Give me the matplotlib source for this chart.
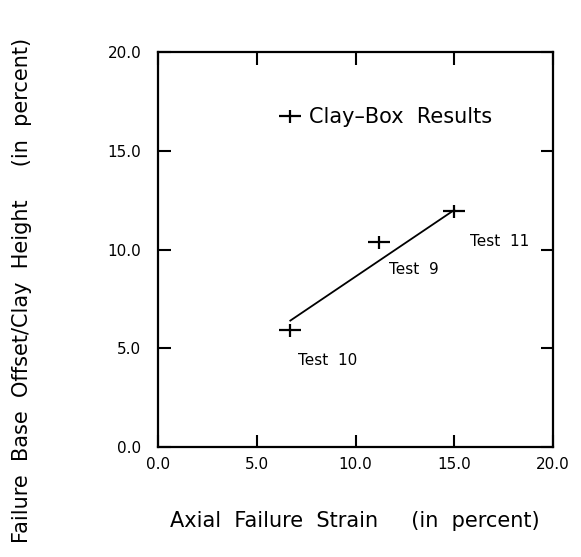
import matplotlib
matplotlib.use("Agg")
import matplotlib.pyplot as plt
from matplotlib.path import Path
from matplotlib.lines import Line2D

# Data
test_names = ["Test 10", "Test 9", "Test 11"]
strain = [6.7, 11.2, 15.0]
offset = [5.9, 10.4, 11.95]
fit_x = [6.7, 15.0]
fit_y = [6.4, 12.0]
ticks = [0.0, 5.0, 10.0, 15.0, 20.0]
tick_labels = ["0.0", "5.0", "10.0", "15.0", "20.0"]

label_pos = {"Test 10": (7.1, 4.4), "Test 9": (11.7, 9.0), "Test 11": (15.8, 10.4)}

plt.rcParams['font.family'] = ['DejaVu Sans']

fig = plt.figure(figsize=(5.81, 5.57), dpi=100)
ax = fig.add_axes([158/581, 1-447/557, (553-158)/581, (447-52)/557])

marker = Path([(-1.0, 0.0), (1.0, 0.0), (0.0, -0.6), (0.0, 0.5)],
              [Path.MOVETO, Path.LINETO, Path.MOVETO, Path.LINETO])

ax.plot(fit_x, fit_y, color='black', lw=1.3)
ax.plot(strain, offset, linestyle='none', marker=marker, markersize=16,
        markeredgewidth=1.6, color='black')

for name, x, y in zip(test_names, strain, offset):
    tx, ty = label_pos[name]
    ax.text(tx, ty, name.replace(" ", "  "), fontsize=11, va='center', ha='left')

handle = Line2D([], [], linestyle='none', marker=marker, markersize=16,
                markeredgewidth=1.6, color='black')
ax.legend([handle], ["Clay\u2013Box  Results"], loc='center left',
          bbox_to_anchor=(0.26, 0.835), frameon=False, fontsize=15,
          handletextpad=0.4, handlelength=1.0)

ax.set_xlim(0, 20)
ax.set_ylim(0, 20)
ax.set_xticks(ticks)
ax.set_xticklabels(tick_labels)
ax.set_yticks(ticks)
ax.set_yticklabels(tick_labels)
ax.tick_params(direction='in', length=9, width=1.5, top=True, right=True,
               labelsize=11)
ax.tick_params(axis='y', pad=12)
ax.tick_params(axis='x', pad=7)
for s in ax.spines.values():
    s.set_linewidth(1.6)

fig.text(355/581, 1-521/557, "Axial  Failure  Strain     (in  percent)",
         fontsize=15, ha='center', va='center')
fig.text(22/581, 1-290/557, "Failure  Base  Offset/Clay  Height     (in  percent)",
         fontsize=15, ha='center', va='center', rotation=90)

fig.savefig("out.png", dpi=100)
